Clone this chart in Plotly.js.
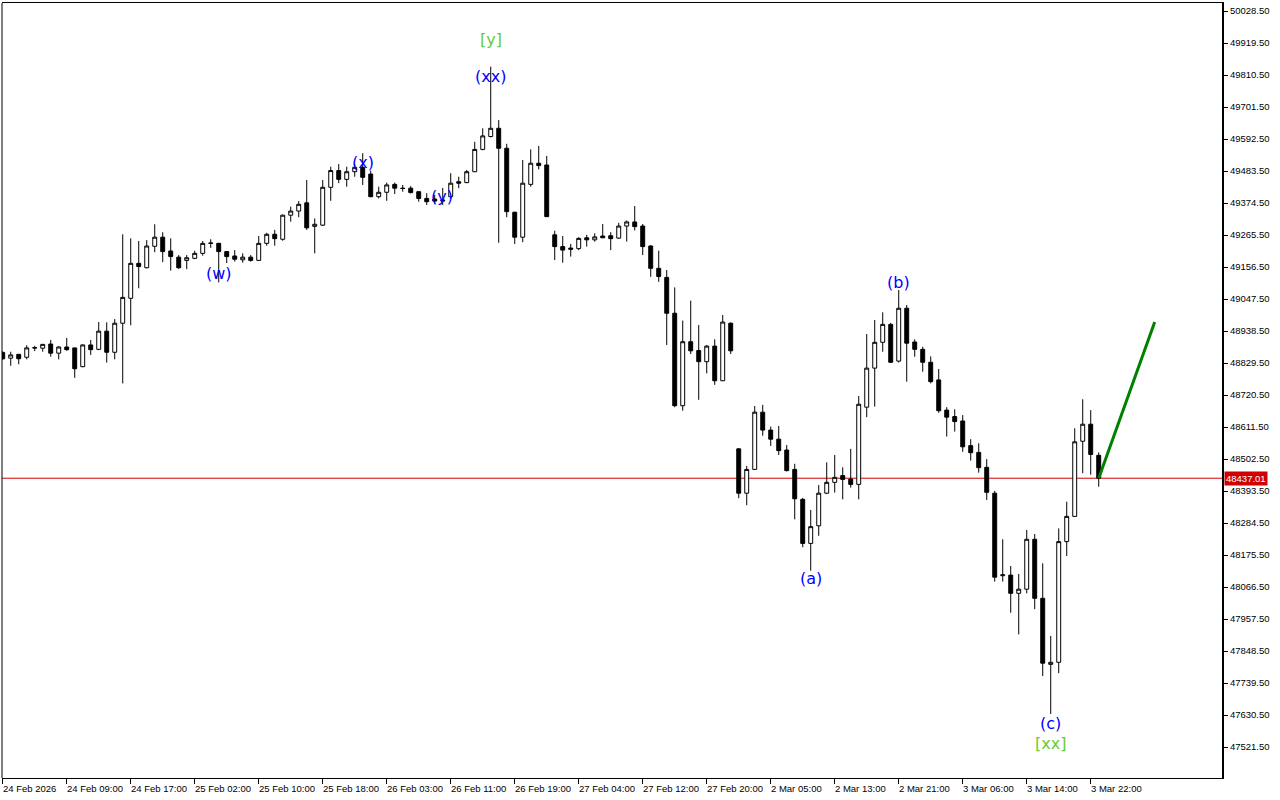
<!DOCTYPE html>
<html>
<head>
<meta charset="utf-8">
<script src="https://cdn.plot.ly/plotly-3.0.1.min.js"></script>
<style>html,body{margin:0;padding:0;background:#fff;}#chart{width:1280px;height:800px;}</style>
</head>
<body>
<div id="chart"></div>
<script>
// Hourly bars, index 0 = 24 Feb 2026 00:00 ... 137 = 3 Mar 23:00
const openP = [48865,48846,48859,48849,48880,48880,48894,48863,48884,48881,
48817,48891,48876,48938,48866,48965,49050,49169,49154,49227,
49258,49211,49190,49179,49186,49203,49237,49237,49209,49194,
49181,49190,49179,49237,49268,49251,49333,49347,49375,49295,
49299,49428,49485,49455,49481,49496,49473,49396,49411,49438,
49425,49425,49413,49390,49388,49381,49396,49447,49444,49481,
49557,49601,49629,49561,49343,49258,49438,49510,49504,49266,
49226,49221,49219,49256,49249,49262,49263,49255,49296,49310,
49296,49228,49152,49121,48999,48684,48902,48872,48834,48887,
48769,48965,48537,48386,48467,48662,48601,48570,48533,48467,
48365,48215,48275,48386,48423,48446,48434,48416,48679,48812,
48900,48961,48836,49016,48901,48876,48832,48772,48669,48647,
48632,48548,48525,48474,48386,48105,48107,48045,48059,48229,
48028,47803,47810,48221,48307,48563,48621,48515];
const highP = [48870,48868,48860,48890,48888,48894,48908,48887,48915,48881,
48893,48908,48969,48968,48979,49268,49254,49245,49248,49302,
49275,49254,49197,49197,49212,49245,49251,49239,49211,49214,
49203,49197,49262,49273,49283,49335,49362,49381,49453,49322,
49453,49498,49507,49498,49507,49544,49484,49430,49444,49444,
49436,49432,49415,49408,49402,49426,49476,49464,49487,49583,
49629,49839,49657,49576,49345,49521,49557,49569,49535,49280,
49262,49235,49258,49266,49271,49303,49275,49307,49315,49364,
49303,49231,49212,49146,49087,48974,49042,48959,48891,48910,
48993,48968,48539,48479,48683,48687,48613,48615,48550,48486,
48370,48329,48414,48491,48516,48474,48537,48717,48928,48976,
49002,48966,49078,49027,48910,48885,48852,48809,48679,48672,
48652,48570,48556,48502,48394,48229,48138,48111,48261,48247,
48147,47900,48266,48357,48607,48706,48669,48525];
const lowP = [48840,48820,48825,48842,48870,48868,48851,48842,48871,48779,
48815,48857,48873,48831,48842,48760,48958,49084,49152,49207,
49173,49144,49150,49149,49183,49195,49222,49104,49170,49175,
49171,49175,49177,49229,49229,49246,49311,49326,49283,49203,
49296,49382,49442,49430,49464,49436,49394,49390,49382,49405,
49413,49407,49379,49368,49371,49368,49390,49425,49442,49480,
49554,49598,49239,49326,49235,49241,49430,49489,49327,49180,
49171,49192,49214,49226,49243,49255,49214,49252,49243,49281,
49197,49123,49106,48891,48679,48667,48860,48704,48794,48755,
48768,48860,48369,48345,48465,48582,48547,48516,48460,48297,
48202,48122,48241,48383,48388,48365,48405,48365,48645,48681,
48868,48830,48831,48766,48851,48800,48760,48660,48579,48596,
48527,48497,48456,48363,48085,48085,47979,47905,48045,47991,
47763,47634,47773,48172,48305,48454,48449,48408];
const closeP = [48844,48857,48844,48881,48882,48893,48863,48884,48875,48810,
48891,48875,48938,48866,48965,49053,49169,49158,49228,49258,
49209,49192,49154,49188,49203,49237,49238,49209,49192,49183,
49190,49179,49237,49268,49253,49333,49347,49370,49290,49302,
49428,49485,49455,49481,49496,49462,49396,49411,49436,49425,
49424,49410,49390,49379,49381,49384,49442,49442,49481,49557,
49603,49629,49561,49345,49258,49442,49510,49502,49328,49226,
49214,49217,49254,49249,49259,49256,49253,49296,49310,49294,
49226,49152,49124,48999,48684,48902,48871,48834,48887,48769,
48969,48871,48386,48467,48662,48601,48570,48531,48463,48367,
48215,48272,48386,48423,48440,48433,48416,48689,48812,48900,
48961,48832,49016,48897,48876,48832,48766,48667,48645,48630,
48544,48524,48473,48389,48100,48108,48045,48059,48229,48028,
47807,47810,48221,48307,48561,48621,48518,48437.01];

const tickBars = [0,8,16,24,32,40,48,56,64,72,80,88,96,104,112,120,128,136];
const tickLabels = ["24 Feb 2026","24 Feb 09:00","24 Feb 17:00","25 Feb 02:00","25 Feb 10:00",
"25 Feb 18:00","26 Feb 03:00","26 Feb 11:00","26 Feb 19:00","27 Feb 04:00","27 Feb 12:00",
"27 Feb 20:00","2 Mar 05:00","2 Mar 13:00","2 Mar 21:00","3 Mar 06:00","3 Mar 14:00","3 Mar 22:00"];

const waveText  = ["[y]","(xx)","(x)","(y)","(w)","(b)","(a)","(c)","[xx]"];
const waveBar   = [61,61,45,54.9,27,112,101,131,131];
const wavePrice = [49930,49807,49514,49395,49136,49105,48094,47603,47535];
const waveColor = ["#66cc33","#0000ff","#0000ff","#0000ff","#0000ff","#0000ff","#0000ff","#0000ff","#66cc33"];

const projX = [137,144];
const projY = [48437.01,48969];
const lastPrice = 48437.01;

const xIdx = openP.map((_, i) => i);

const traces = [
  {
    type: 'candlestick', x: xIdx, open: openP, high: highP, low: lowP, close: closeP,
    increasing: {line: {color: '#000000', width: 1}, fillcolor: '#ffffff'},
    decreasing: {line: {color: '#000000', width: 1}, fillcolor: '#000000'},
    whiskerwidth: 0, hoverinfo: 'skip', showlegend: false
  },
  {
    type: 'scatter', mode: 'lines', x: projX, y: projY,
    line: {color: '#008000', width: 3}, hoverinfo: 'skip', showlegend: false
  }
];

const annotations = [];
tickBars.forEach((b, i) => {
  annotations.push({
    x: b, xref: 'x', y: 0, yref: 'paper', text: tickLabels[i],
    xanchor: 'left', yanchor: 'top', yshift: -3, xshift: -2, showarrow: false,
    font: {family: 'Liberation Sans, Arial, sans-serif', size: 9.5, color: '#000'}
  });
});
waveText.forEach((t, i) => {
  annotations.push({
    x: waveBar[i], y: wavePrice[i], xref: 'x', yref: 'y', text: t, showarrow: false,
    xanchor: 'center', yanchor: 'middle',
    font: {family: 'DejaVu Sans, sans-serif', size: 16, color: waveColor[i]}
  });
});
annotations.push({
  x: 1, xref: 'paper', y: lastPrice, yref: 'y', text: lastPrice.toFixed(2),
  xanchor: 'left', yanchor: 'middle', xshift: 2, showarrow: false,
  bgcolor: '#d00000', borderpad: 1,
  font: {family: 'Liberation Sans, Arial, sans-serif', size: 9.5, color: '#ffffff'}
});

const layout = {
  width: 1280, height: 800,
  margin: {l: 2, r: 58, t: 3, b: 22, pad: 0},
  paper_bgcolor: '#ffffff', plot_bgcolor: '#ffffff',
  showlegend: false,
  xaxis: {
    type: 'linear', range: [-0.09, 152.41], rangeslider: {visible: false},
    tickmode: 'array', tickvals: tickBars, showticklabels: false,
    ticks: 'outside', ticklen: 5, tickcolor: '#000', tickwidth: 1,
    showgrid: false, zeroline: false, showline: true, mirror: true,
    linecolor: '#000', linewidth: 1, fixedrange: true
  },
  yaxis: {
    side: 'right', range: [47415.9, 50055.75],
    tick0: 47521.5, dtick: 109, tickformat: '.2f',
    ticks: 'outside', ticklen: 4, tickcolor: '#000', tickwidth: 1,
    tickfont: {family: 'Liberation Sans, Arial, sans-serif', size: 9.5, color: '#000'},
    showgrid: false, zeroline: false, showline: true, linecolor: '#000', linewidth: 2,
    fixedrange: true
  },
  shapes: [
    {type: 'line', xref: 'paper', yref: 'y', x0: 0, x1: 1, y0: lastPrice, y1: lastPrice,
     line: {color: '#d00000', width: 1}, layer: 'below'},
    {type: 'line', xref: 'paper', yref: 'paper', x0: 0, x1: 0, y0: 0, y1: 1,
     line: {color: '#000', width: 1}}
  ],
  annotations: annotations
};

Plotly.newPlot('chart', traces, layout, {displayModeBar: false, staticPlot: true});
</script>
</body>
</html>
